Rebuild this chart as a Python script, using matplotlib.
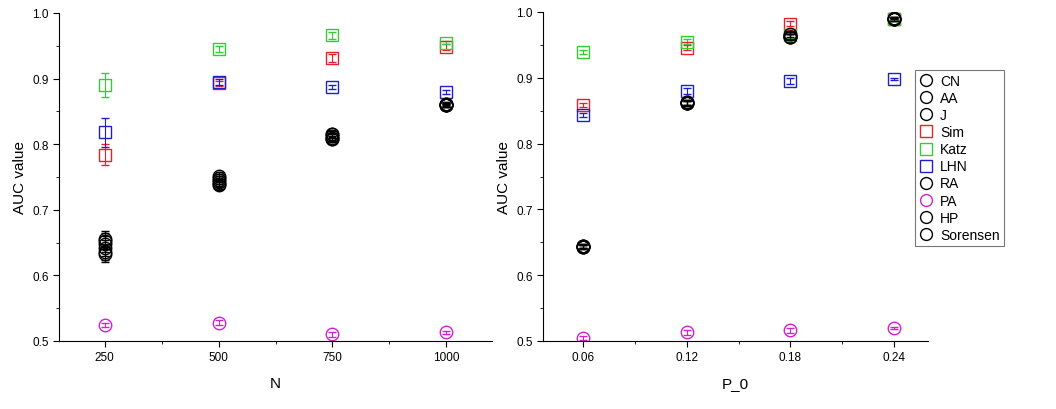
import numpy as np
import matplotlib
matplotlib.use('Agg')
import matplotlib.pyplot as plt
from matplotlib.ticker import MultipleLocator

plt.rcParams['font.family'] = ['Liberation Sans', 'DejaVu Sans']

methods = ['CN', 'AA', 'J', 'Sim', 'Katz', 'LHN', 'RA', 'PA', 'HP', 'Sorensen']
colors = ['black', 'black', 'black', '#e8202a', '#33cc33', '#2020c8',
          'black', '#d020d0', 'black', 'black']
markers = ['o', 'o', 'o', 's', 's', 's', 'o', 'o', 'o', 'o']

# left panel: network size N
n_values = [250, 500, 750, 1000]
auc_n = {
    'CN':       [0.648, 0.745, 0.812, 0.860],
    'AA':       [0.652, 0.748, 0.815, 0.861],
    'J':        [0.636, 0.740, 0.808, 0.859],
    'Sim':      [0.784, 0.893, 0.931, 0.948],
    'Katz':     [0.890, 0.945, 0.966, 0.955],
    'LHN':      [0.818, 0.895, 0.887, 0.880],
    'RA':       [0.655, 0.752, 0.816, 0.862],
    'PA':       [0.525, 0.528, 0.510, 0.513],
    'HP':       [0.642, 0.742, 0.810, 0.860],
    'Sorensen': [0.633, 0.738, 0.808, 0.859],
}
err_n = {
    'CN':       [0.012, 0.006, 0.005, 0.003],
    'AA':       [0.012, 0.006, 0.005, 0.003],
    'J':        [0.012, 0.006, 0.005, 0.003],
    'Sim':      [0.016, 0.004, 0.006, 0.004],
    'Katz':     [0.018, 0.004, 0.005, 0.003],
    'LHN':      [0.022, 0.004, 0.003, 0.003],
    'RA':       [0.012, 0.006, 0.005, 0.003],
    'PA':       [0.003, 0.004, 0.004, 0.003],
    'HP':       [0.012, 0.006, 0.005, 0.003],
    'Sorensen': [0.012, 0.006, 0.005, 0.003],
}

# right panel: P_0
p_values = [0.06, 0.12, 0.18, 0.24]
auc_p = {
    'CN':       [0.644, 0.862, 0.963, 0.990],
    'AA':       [0.645, 0.863, 0.965, 0.990],
    'J':        [0.643, 0.861, 0.962, 0.989],
    'Sim':      [0.859, 0.946, 0.982, 0.990],
    'Katz':     [0.939, 0.955, 0.965, 0.990],
    'LHN':      [0.843, 0.880, 0.895, 0.898],
    'RA':       [0.645, 0.863, 0.966, 0.991],
    'PA':       [0.505, 0.513, 0.516, 0.520],
    'HP':       [0.643, 0.861, 0.962, 0.989],
    'Sorensen': [0.643, 0.861, 0.962, 0.989],
}
err_p = {m: [0.003, 0.004, 0.004, 0.002] for m in methods}

fig = plt.figure(figsize=(10.56, 4.10), dpi=100)
ax1 = fig.add_axes([59 / 1056, 68 / 410, 433 / 1056, 328 / 410])
ax2 = fig.add_axes([543 / 1056, 68 / 410, 385 / 1056, 329 / 410])


def draw(ax, xs, auc, err):
    for m, c, mk in zip(methods, colors, markers):
        ax.errorbar(xs, auc[m], yerr=err[m], fmt=mk, color=c, mfc='none',
                    mec=c, ms=9 if mk == 'o' else 8.5, mew=1.0,
                    elinewidth=0.8, capsize=3, capthick=0.8, label=m)
    ax.set_ylim(0.5, 1.0)
    ax.yaxis.set_major_locator(MultipleLocator(0.1))
    ax.yaxis.set_minor_locator(MultipleLocator(0.05))
    ax.yaxis.set_major_formatter(plt.FormatStrFormatter('%.1f'))
    ax.spines['top'].set_visible(False)
    ax.spines['right'].set_visible(False)
    ax.tick_params(axis='both', which='both', direction='out', labelsize=8.5)
    ax.tick_params(which='major', length=4)
    ax.tick_params(which='minor', length=2.5)
    ax.set_ylabel('AUC value', fontsize=11)


draw(ax1, n_values, auc_n, err_n)
ax1.set_xlim(150, 1100)
ax1.set_xticks(n_values)
ax1.xaxis.set_minor_locator(MultipleLocator(125))
ax1.set_xlabel('N', fontsize=11, labelpad=9)

draw(ax2, p_values, auc_p, err_p)
ax2.set_xlim(0.0365, 0.26)
ax2.set_xticks(p_values)
ax2.set_xticklabels(['0.06', '0.12', '0.18', '0.24'])
ax2.xaxis.set_minor_locator(MultipleLocator(0.03))
ax2.set_xlabel('P_0', fontsize=11, labelpad=9)

handles, labels = ax2.get_legend_handles_labels()
handles = [h[0] for h in handles]
leg = ax2.legend(handles, labels, loc='upper left',
                 bbox_to_anchor=(915 / 1056, 1 - 71 / 410),
                 bbox_transform=fig.transFigure, fontsize=10,
                 frameon=True, fancybox=False, edgecolor='#555555',
                 handletextpad=0.5, handlelength=1.0, labelspacing=0.22,
                 borderpad=0.3, borderaxespad=0, markerscale=0.95)
leg.get_frame().set_linewidth(0.8)

fig.savefig('out.png', dpi=100)
